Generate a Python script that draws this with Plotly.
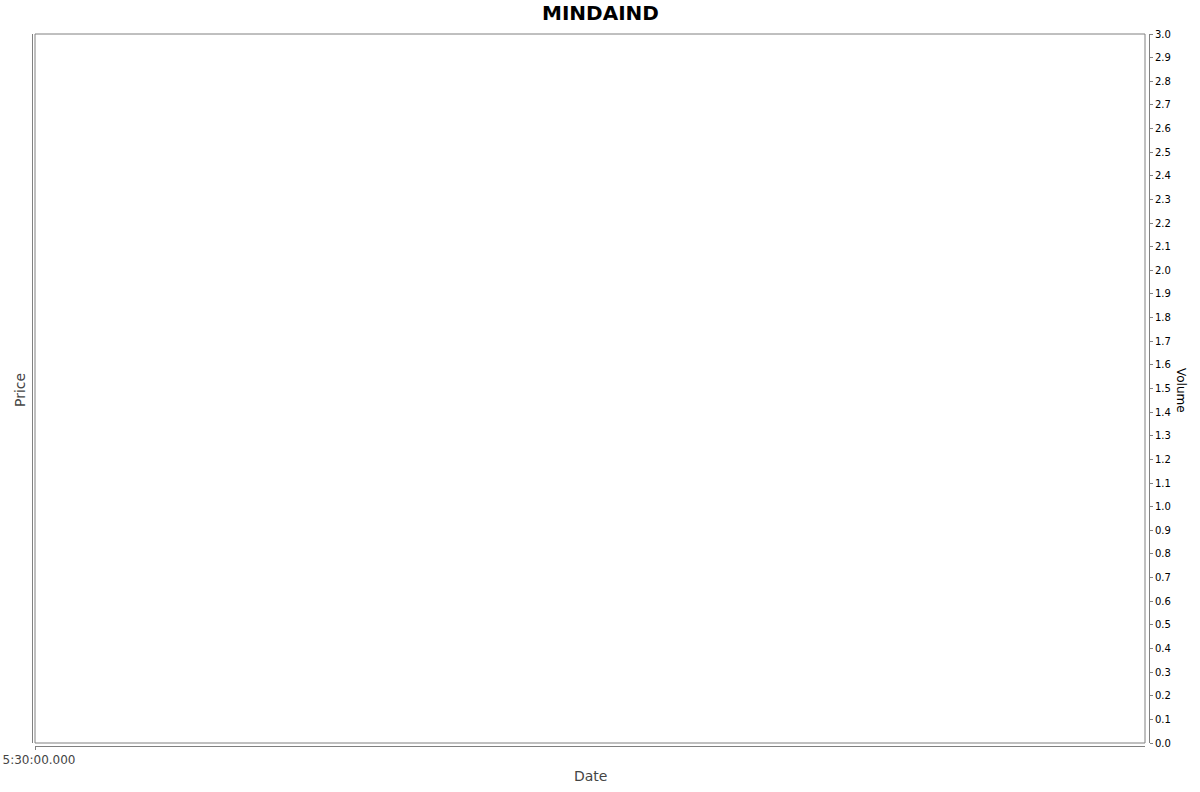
import plotly.graph_objects as go

# Chart data (the series are empty in the source chart)
title = "MINDAIND"
dates = []
prices = []
volumes = []
x_tick_labels = ["5:30:00.000"]
volume_ticks = [round(i * 0.1, 1) for i in range(31)]

W, H = 1200, 792
ml, mr, mt, mb = 32, 51, 34, 46
pw, ph = W - ml - mr, H - mt - mb

font = "DejaVu Sans, Verdana, sans-serif"
axis_col = "#808080"

fig = go.Figure()
fig.add_trace(go.Scatter(x=dates, y=prices, mode="lines", xaxis="x", yaxis="y",
                         showlegend=False))
fig.add_trace(go.Bar(x=dates, y=volumes, xaxis="x", yaxis="y2", showlegend=False))

fig.update_layout(
    width=W, height=H,
    margin=dict(l=ml, r=mr, t=mt, b=mb, pad=0, autoexpand=False),
    paper_bgcolor="white", plot_bgcolor="white",
    font=dict(family=font, color="#000000"),
    xaxis=dict(
        domain=[3 / pw, 1 - 4 / pw],
        anchor="free", position=0,
        range=[0, 1],
        tickvals=[0], ticktext=x_tick_labels,
        ticks="outside", ticklen=3, tickcolor=axis_col,
        ticklabelshift=4,
        tickfont=dict(size=12, color="#444444", family=font),
        showline=True, linecolor=axis_col, linewidth=1,
        showgrid=False, zeroline=False, fixedrange=True,
        automargin=False,
    ),
    yaxis=dict(
        domain=[3 / ph, 1],
        anchor="free", position=0,
        range=[0, 1],
        showticklabels=False, ticks="",
        showline=True, linecolor=axis_col, linewidth=1,
        showgrid=False, zeroline=False, automargin=False,
    ),
    yaxis2=dict(
        domain=[3 / ph, 1],
        overlaying="y", side="right",
        anchor="free", position=1,
        range=[0, 3],
        tickvals=volume_ticks,
        ticktext=[f"{v:.1f}" for v in volume_ticks],
        ticks="outside", ticklen=3, tickcolor=axis_col,
        tickfont=dict(size=10, color="#000000", family=font),
        showline=True, linecolor=axis_col, linewidth=1,
        showgrid=False, zeroline=False, automargin=False,
    ),
    shapes=[dict(type="rect", xref="x domain", yref="y domain",
                 x0=0, x1=1, y0=0, y1=1,
                 line=dict(color=axis_col, width=1), fillcolor="rgba(0,0,0,0)")],
    annotations=[
        # title is centred on the whole page, not on the plot area
        dict(text="<b>" + title + "</b>", xref="paper", yref="paper",
             x=(W / 2 - ml) / pw, y=1, yshift=21, xanchor="center", yanchor="middle",
             showarrow=False, font=dict(size=20, color="#000000", family=font)),
        dict(text="Price", xref="paper", yref="paper", x=0, xshift=-12,
             y=0.5, textangle=-90, showarrow=False,
             xanchor="center", yanchor="middle",
             font=dict(size=14, color="#444444", family=font)),
        dict(text="Volume", xref="paper", yref="paper", x=1, xshift=32,
             y=0.5, textangle=90, showarrow=False,
             xanchor="center", yanchor="middle",
             font=dict(size=12, color="#000000", family=font)),
        dict(text="Date", xref="paper", yref="paper", x=0.5, y=0, yshift=-30,
             showarrow=False, xanchor="center", yanchor="middle",
             font=dict(size=14, color="#444444", family=font)),
    ],
)

# drop the browser's default 8px page margin so the figure sits at (0, 0)
fig.write_html("out.html", config={"displayModeBar": False},
               post_script="document.body.style.margin='0';")
